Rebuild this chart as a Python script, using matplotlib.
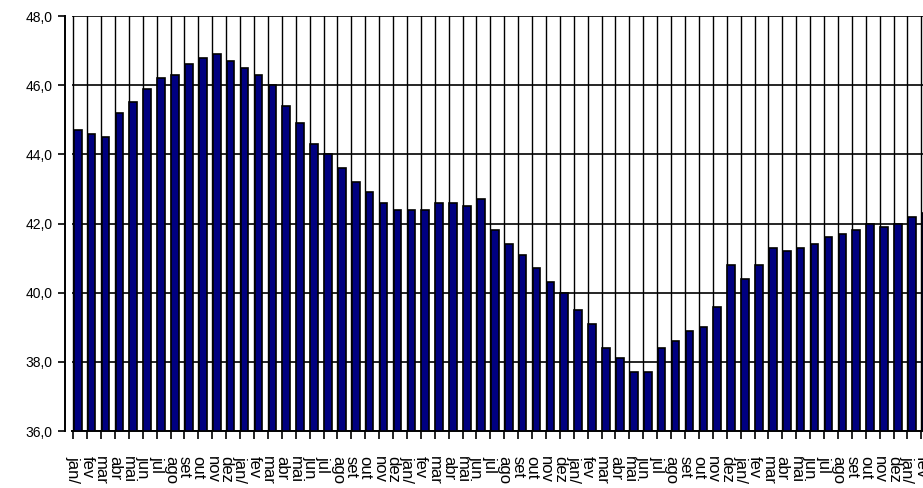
import matplotlib
matplotlib.use("Agg")
import matplotlib.pyplot as plt
import numpy as np

plt.rcParams['font.family'] = ['Liberation Sans', 'DejaVu Sans']

# month labels (year part is cut off at the bottom of the picture)
months = ["jan/", "fev", "mar", "abr", "mai", "jun", "jul", "ago", "set", "out", "nov", "dez"]
labels = months * 5 + ["jan/", "fev"]

values = [44.7, 44.6, 44.5, 45.2, 45.5, 45.9, 46.2, 46.3, 46.6, 46.8, 46.9, 46.7,
          46.5, 46.3, 46.0, 45.4, 44.9, 44.3, 44.0, 43.6, 43.2, 42.9, 42.6, 42.4,
          42.4, 42.4, 42.6, 42.6, 42.5, 42.7, 41.8, 41.4, 41.1, 40.7, 40.3, 40.0,
          39.5, 39.1, 38.4, 38.1, 37.7, 37.7, 38.4, 38.6, 38.9, 39.0, 39.6, 40.8,
          40.4, 40.8, 41.3, 41.2, 41.3, 41.4, 41.6, 41.7, 41.8, 42.0, 41.9, 42.0,
          42.2, 42.3]

y_ticks = [36, 38, 40, 42, 44, 46, 48]

fig = plt.figure(figsize=(9.23, 4.88), dpi=100)
# the plot area runs a little past the right edge, like the original
ax = fig.add_axes([72 / 923, 57 / 488, 862 / 923, 415 / 488])

x = np.arange(len(values))
base = y_ticks[0]
ax.bar(x, np.array(values) - base, bottom=base, width=0.55,
       color="#000080", edgecolor="black", linewidth=1.2, zorder=3)

ax.set_xlim(-0.41, len(values) - 0.41)
ax.set_ylim(y_ticks[0], y_ticks[-1])

ax.set_yticks(y_ticks)
ax.set_yticklabels([f"{v:.1f}".replace(".", ",") for v in y_ticks], fontsize=12)

# labels sit a bit left of the bars (front face of the 3d axis)
ax.set_xticks(x - 0.33)
ax.set_xticklabels(labels, rotation=270, fontsize=12, va="top", ha="center")
ax.set_xticks(x - 0.32, minor=True)

ax.tick_params(axis="x", which="major", length=0, pad=18)
ax.tick_params(axis="x", which="minor", length=6, width=1.2, direction="out", color="black")
ax.tick_params(axis="y", length=5, width=1.2, direction="out", pad=4)

ax.grid(True, axis="y", which="major", color="black", linewidth=1.2, zorder=1)
ax.grid(True, axis="x", which="minor", color="black", linewidth=1.0, zorder=1)

for side in ["top", "right"]:
    ax.spines[side].set_visible(False)
ax.spines["left"].set_position(("outward", 5))
ax.spines["left"].set_linewidth(1.4)
ax.spines["bottom"].set_linewidth(1.4)
ax.set_axisbelow(True)

fig.savefig("out.png", dpi=100)
